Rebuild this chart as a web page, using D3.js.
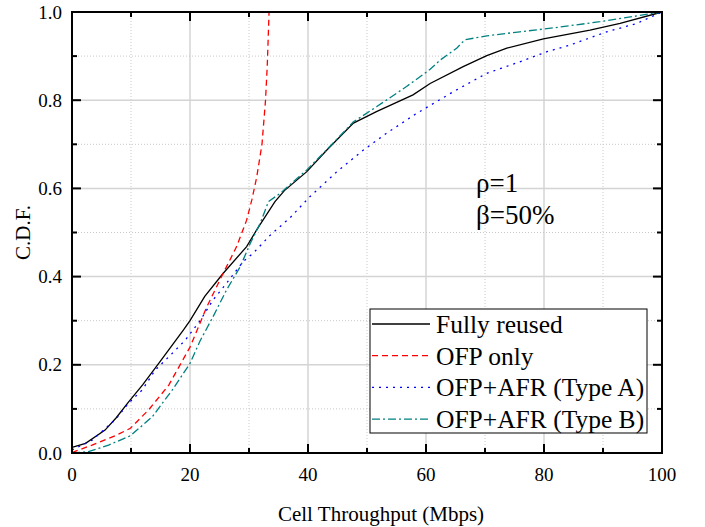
<!DOCTYPE html>
<html lang="en">
<head>
<meta charset="utf-8">
<title>CDF of cell throughput</title>
<script src="https://cdn.jsdelivr.net/npm/d3@7/dist/d3.min.js"></script>
<style>
  body { margin: 0; background: #fff; }
  svg text { font-family: "Liberation Serif", "Times New Roman", serif; }
</style>
</head>
<body>
<script>
// curve points: [throughput in Mbps, cdf]
var fullyReused = [[0,0.013],[2.3,0.022],[5.6,0.052],[7.5,0.08],[9.6,0.116],[12,0.155],[14.7,0.203],[18.9,0.279],[20,0.30],
  [22.5,0.355],[25.6,0.407],[29.6,0.468],[31.3,0.506],[34.4,0.57],[36,0.595],[39.8,0.638],[43.2,0.687],[47.7,0.748],
  [51.6,0.774],[57.8,0.812],[60.7,0.838],[66.3,0.876],[70.3,0.901],[73.7,0.918],[79.9,0.939],[87.8,0.959],[92.9,0.974],[100,1.0]];
var ofpOnly = [[0,0.001],[3.4,0.018],[7.3,0.039],[9.9,0.056],[13,0.098],[16.4,0.154],[20,0.24],[22.8,0.33],[25.6,0.407],
  [27.9,0.468],[29.6,0.528],[30.5,0.575],[31.3,0.625],[32.2,0.70],[32.8,0.80],[33.1,0.88],[33.4,1.0]];
var typeA = [[0,0.007],[3.4,0.029],[7.3,0.075],[9.6,0.113],[11.9,0.143],[14.1,0.188],[16.4,0.218],[19.2,0.256],[21.7,0.30],
  [23.9,0.347],[26.2,0.385],[29,0.434],[30.7,0.453],[33.6,0.494],[37,0.534],[40.3,0.581],[44.9,0.638],[49.4,0.687],
  [53.3,0.725],[58.4,0.77],[64.6,0.819],[70.3,0.861],[75.9,0.887],[80.5,0.91],[84.4,0.925],[90.6,0.955],[95.7,0.974],[100,1.0]];
var typeB = [[0,0],[2.8,0.003],[6.2,0.018],[9.9,0.039],[13.6,0.082],[17,0.143],[20,0.203],[21.7,0.254],[23.9,0.309],
  [26.2,0.37],[28.5,0.422],[30.2,0.475],[31.9,0.521],[33.3,0.57],[35.3,0.589],[39.8,0.642],[43.7,0.695],[47.7,0.751],
  [51.6,0.785],[56.7,0.831],[60.7,0.87],[62.4,0.891],[65.2,0.918],[66.6,0.937],[70.3,0.946],[75.9,0.955],[81.6,0.964],
  [89.5,0.978],[100,1.0]];

var seriesNames = ["Fully reused", "OFP only", "OFP+AFR (Type A)", "OFP+AFR (Type B)"];
var xTicks = [0, 20, 40, 60, 80, 100];
var xMinor = [10, 30, 50, 70, 90];
var yTicks = [0, 0.2, 0.4, 0.6, 0.8, 1.0];
var yMinor = [0.1, 0.3, 0.5, 0.7, 0.9];

(function(){
  var w = 705, h = 527;
  var pl = 72, pt = 12, pr = 662, pb = 453;

  var svg = d3.select("body").append("svg")
    .attr("width", w).attr("height", h);

  var x = d3.scaleLinear().domain([0, 100]).range([pl, pr]);
  var y = d3.scaleLinear().domain([0, 1]).range([pb, pt]);

  // grid
  svg.selectAll("line.gmx").data(xTicks.slice(1, -1)).enter().append("line")
    .attr("x1", x).attr("x2", x).attr("y1", pt).attr("y2", pb)
    .attr("stroke", "#d4d4d4").attr("stroke-width", 1.5);
  svg.selectAll("line.gnx").data(xMinor).enter().append("line")
    .attr("x1", x).attr("x2", x).attr("y1", pt).attr("y2", pb)
    .attr("stroke", "#c8c8c8").attr("stroke-width", 1).attr("stroke-dasharray", "1,2");
  svg.selectAll("line.gmy").data(yTicks.slice(1, -1)).enter().append("line")
    .attr("y1", y).attr("y2", y).attr("x1", pl).attr("x2", pr)
    .attr("stroke", "#d4d4d4").attr("stroke-width", 1.5);
  svg.selectAll("line.gny").data(yMinor).enter().append("line")
    .attr("y1", y).attr("y2", y).attr("x1", pl).attr("x2", pr)
    .attr("stroke", "#c8c8c8").attr("stroke-width", 1).attr("stroke-dasharray", "1,2");

  // curves
  var line = d3.line().x(function(d){ return x(d[0]); }).y(function(d){ return y(d[1]); });
  var styles = [
    {data: fullyReused, color: "#000000", dash: null},
    {data: ofpOnly, color: "#ff0000", dash: "6,4"},
    {data: typeA, color: "#0000ff", dash: "2,5"},
    {data: typeB, color: "#008080", dash: "8,3,2,3"}
  ];
  styles.forEach(function(s){
    svg.append("path").attr("d", line(s.data))
      .attr("fill", "none").attr("stroke", s.color).attr("stroke-width", 1.3)
      .attr("stroke-dasharray", s.dash);
  });

  // inward ticks on all four sides
  function xTickLines(vals, len){
    vals.forEach(function(v){
      svg.append("line").attr("x1", x(v)).attr("x2", x(v)).attr("y1", pb).attr("y2", pb - len)
        .attr("stroke", "#000").attr("stroke-width", 2);
      svg.append("line").attr("x1", x(v)).attr("x2", x(v)).attr("y1", pt).attr("y2", pt + len)
        .attr("stroke", "#000").attr("stroke-width", 2);
    });
  }
  function yTickLines(vals, len){
    vals.forEach(function(v){
      svg.append("line").attr("y1", y(v)).attr("y2", y(v)).attr("x1", pl).attr("x2", pl + len)
        .attr("stroke", "#000").attr("stroke-width", 2);
      svg.append("line").attr("y1", y(v)).attr("y2", y(v)).attr("x1", pr).attr("x2", pr - len)
        .attr("stroke", "#000").attr("stroke-width", 2);
    });
  }
  xTickLines(xTicks, 9);
  xTickLines(xMinor, 5);
  yTickLines(yTicks, 9);
  yTickLines(yMinor, 5);

  svg.append("rect").attr("x", pl).attr("y", pt)
    .attr("width", pr - pl).attr("height", pb - pt)
    .attr("fill", "none").attr("stroke", "#000").attr("stroke-width", 2);

  svg.selectAll("text.xt").data(xTicks).enter().append("text")
    .attr("x", x).attr("y", pb + 28)
    .attr("text-anchor", "middle").attr("font-size", "19px")
    .text(function(d){ return d; });
  svg.selectAll("text.yt").data(yTicks).enter().append("text")
    .attr("x", pl - 10).attr("y", function(d){ return y(d) + 6.5; })
    .attr("text-anchor", "end").attr("font-size", "19px")
    .text(function(d){ return d.toFixed(1); });

  svg.append("text").attr("x", 381).attr("y", 521)
    .attr("text-anchor", "middle").attr("font-size", "21px")
    .text("Cell Throughput (Mbps)");
  svg.append("text").attr("transform", "translate(30," + (pt + pb) / 2 + ") rotate(-90)")
    .attr("text-anchor", "middle").attr("font-size", "21px")
    .text("C.D.F.");

  // annotation
  svg.append("text").attr("x", 476).attr("y", 192).attr("font-size", "27px").text("\u03c1=1");
  svg.append("text").attr("x", 476).attr("y", 224).attr("font-size", "27px").text("\u03b2=50%");

  // legend
  svg.append("rect").attr("x", 370).attr("y", 309).attr("width", 277).attr("height", 124)
    .attr("fill", "#fff").attr("stroke", "#000").attr("stroke-width", 1);
  styles.forEach(function(s, i){
    var cy = 324 + i * 31.7;
    svg.append("line").attr("x1", 372).attr("x2", 430).attr("y1", cy).attr("y2", cy)
      .attr("stroke", s.color).attr("stroke-width", 1.3).attr("stroke-dasharray", s.dash);
    svg.append("text").attr("x", 436).attr("y", cy + 9).attr("font-size", "25.5px")
      .text(seriesNames[i]);
  });
})();
</script>
</body>
</html>
